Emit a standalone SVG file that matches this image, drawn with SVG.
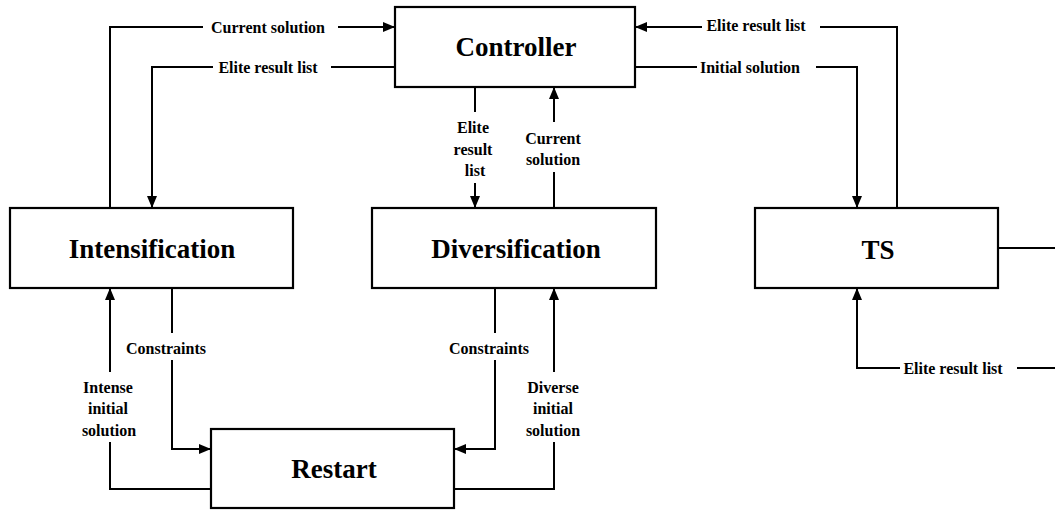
<svg xmlns="http://www.w3.org/2000/svg" width="1055" height="510" viewBox="0 0 1055 510">
<style>
.box{fill:#fff;stroke:#000;stroke-width:2.2}
.nt{font-family:"Liberation Serif","Times New Roman",serif;font-weight:bold;font-size:27px;text-anchor:middle;fill:#000}
.lt{font-family:"Liberation Serif","Times New Roman",serif;font-weight:bold;font-size:16px;text-anchor:middle;fill:#000}
.c{fill:none;stroke:#000;stroke-width:2}
.a{marker-end:url(#arr)}
</style>
<defs>
<marker id="arr" markerUnits="userSpaceOnUse" markerWidth="12" markerHeight="10" refX="12" refY="5" orient="auto">
<path d="M0,0 L12,5 L0,10 z" fill="#000"/>
</marker>
</defs>
<rect width="1055" height="510" fill="#fff"/>
<g id="connectors">
<polyline class="c" points="110,208 110,27 203,27"/>
<line class="c a" x1="338" y1="27" x2="395" y2="27"/>
<text class="lt" x="268" y="33">Current solution</text>
<line class="c" x1="395" y1="67" x2="331" y2="67"/>
<polyline class="c a" points="213,67 152,67 152,208"/>
<text class="lt" x="268" y="73">Elite result list</text>
<line class="c" x1="475" y1="87" x2="475" y2="112"/>
<line class="c a" x1="475" y1="183" x2="475" y2="208"/>
<text class="lt" x="473" y="133">Elite</text>
<text class="lt" x="473" y="154.5">result</text>
<text class="lt" x="475" y="176">list</text>
<line class="c" x1="554" y1="208" x2="554" y2="172"/>
<line class="c a" x1="554" y1="122" x2="554" y2="87"/>
<text class="lt" x="553" y="143.5">Current</text>
<text class="lt" x="553" y="165">solution</text>
<polyline class="c" points="897,208 897,27 820,27"/>
<line class="c a" x1="702" y1="27" x2="635" y2="27"/>
<text class="lt" x="756" y="31">Elite result list</text>
<line class="c" x1="635" y1="67" x2="697" y2="67"/>
<polyline class="c a" points="816,67 857,67 857,208"/>
<text class="lt" x="750" y="73">Initial solution</text>
<line class="c" x1="998" y1="248" x2="1055" y2="248"/>
<line class="c" x1="1055" y1="368" x2="1017" y2="368"/>
<polyline class="c a" points="900,368 857,368 857,288"/>
<text class="lt" x="953" y="374">Elite result list</text>
<line class="c" x1="172" y1="288" x2="172" y2="333"/>
<polyline class="c a" points="172,360 172,449 211,449"/>
<text class="lt" x="166" y="354">Constraints</text>
<polyline class="c" points="211,489 110,489 110,442"/>
<line class="c a" x1="110" y1="372" x2="110" y2="288"/>
<text class="lt" x="108" y="392.5">Intense</text>
<text class="lt" x="108" y="414">initial</text>
<text class="lt" x="109" y="435.5">solution</text>
<line class="c" x1="495" y1="288" x2="495" y2="333"/>
<polyline class="c a" points="495,360 495,449 454,449"/>
<text class="lt" x="489" y="354">Constraints</text>
<polyline class="c" points="454,489 554,489 554,442"/>
<line class="c a" x1="554" y1="372" x2="554" y2="288"/>
<text class="lt" x="553" y="392.5">Diverse</text>
<text class="lt" x="553" y="414">initial</text>
<text class="lt" x="553" y="435.5">solution</text>
</g>
<g id="controller">
<rect class="box" x="395" y="7" width="240" height="80"/>
<text class="nt" x="516" y="56">Controller</text>
</g>
<g id="intensification">
<rect class="box" x="10" y="208" width="283" height="80"/>
<text class="nt" x="152" y="258">Intensification</text>
</g>
<g id="diversification">
<rect class="box" x="372" y="208" width="284" height="80"/>
<text class="nt" x="516" y="258">Diversification</text>
</g>
<g id="ts">
<rect class="box" x="755" y="208" width="243" height="80"/>
<text class="nt" x="878" y="259">TS</text>
</g>
<g id="restart">
<rect class="box" x="211" y="429" width="243" height="79"/>
<text class="nt" x="334" y="478">Restart</text>
</g>
</svg>
